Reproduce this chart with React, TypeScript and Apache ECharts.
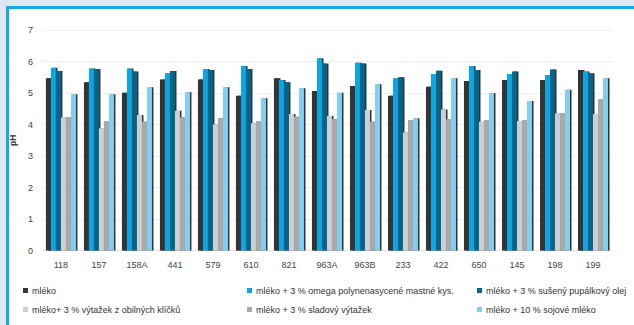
import React, { useEffect, useRef } from "react";
import * as echarts from "echarts";

const categories = ["118", "157", "158A", "441", "579", "610", "821", "963A", "963B", "233", "422", "650", "145", "198", "199"];
const seriesNames = [
  "mléko",
  "mléko + 3 % omega polynenasycené mastné kys.",
  "mléko + 3 % sušený pupálkový olej",
  "mléko+ 3 % výtažek z obilných klíčků",
  "mléko + 3 % sladový výtažek",
  "mléko + 10 % sojové mléko",
];
const mleko = [5.47, 5.34, 5.01, 5.43, 5.43, 4.91, 5.47, 5.06, 5.22, 4.91, 5.2, 5.38, 5.41, 5.41, 5.73];
const omega = [5.8, 5.78, 5.78, 5.63, 5.76, 5.86, 5.41, 6.1, 5.96, 5.47, 5.6, 5.86, 5.6, 5.57, 5.68];
const pupalka = [5.7, 5.76, 5.68, 5.7, 5.73, 5.76, 5.34, 5.94, 5.94, 5.5, 5.71, 5.73, 5.68, 5.75, 5.63];
const klicky = [4.22, 3.88, 4.3, 4.44, 4.0, 4.04, 4.33, 4.27, 4.46, 3.75, 4.48, 4.09, 4.11, 4.35, 4.33];
const slad = [4.22, 4.11, 4.09, 4.22, 4.2, 4.11, 4.25, 4.17, 4.09, 4.14, 4.17, 4.14, 4.14, 4.35, 4.8];
const soja = [4.96, 4.96, 5.18, 5.02, 5.18, 4.83, 5.15, 5.01, 5.28, 4.2, 5.47, 4.99, 4.75, 5.1, 5.47];
const yMin = 0;
const yMax = 7;
const yInterval = 1;

const seriesData = [mleko, omega, pupalka, klicky, slad, soja];
const colors = ["#363636", "#0aa6e1", "#03668c", "#cfcfcf", "#a9a9a9", "#82cff0"];
const legendPos = [
  { left: 23, top: 286 },
  { left: 247, top: 286 },
  { left: 477, top: 286 },
  { left: 23, top: 305 },
  { left: 247, top: 305 },
  { left: 477, top: 305 },
];

const FONT = "Liberation Sans, Arial, sans-serif";

export default function App() {
  const ref = useRef<HTMLDivElement>(null);
  useEffect(() => {
    if (!ref.current) return;
    const chart = echarts.init(ref.current, undefined, { renderer: "svg" });
    chart.setOption({
      animation: false,
      backgroundColor: "transparent",
      textStyle: { fontFamily: FONT },
      graphic: [
        { type: "rect", z: -10, silent: true, shape: { x: 0, y: 0, width: 634, height: 325 }, style: { fill: "#dfe8ee" } },
        { type: "rect", z: -9, silent: true, shape: { x: 6, y: 6, width: 700, height: 400 }, style: { fill: "#18a7e5" } },
        { type: "rect", z: -8, silent: true, shape: { x: 9, y: 9, width: 700, height: 400 }, style: { fill: "#ffffff" } },
      ],
      legend: seriesNames.map((n, i) => ({
        data: [n],
        left: legendPos[i].left,
        top: legendPos[i].top,
        icon: "rect",
        itemWidth: 5,
        itemHeight: 5,
        padding: 0,
        textStyle: { fontSize: 9, color: "#333", fontFamily: FONT, padding: [0, 0, 0, -1] },
      })),
      grid: { left: 34, right: 22, top: 30, bottom: 74.5, containLabel: false },
      xAxis: {
        type: "category",
        data: categories,
        axisTick: { show: false },
        axisLine: { show: true, lineStyle: { color: "#e2e2e2" } },
        axisLabel: { color: "#444", fontSize: 9, margin: 10 },
      },
      yAxis: {
        type: "value",
        min: yMin,
        max: yMax,
        interval: yInterval,
        name: "pH",
        nameLocation: "middle",
        nameGap: 9,
        nameTextStyle: { fontSize: 8.5, fontWeight: "bold", color: "#333" },
        axisLine: { show: false },
        axisTick: { show: false },
        axisLabel: { color: "#444", fontSize: 9, margin: 9 },
        splitLine: { lineStyle: { color: "#efefef" } },
      },
      series: seriesNames.map((n, i) => ({
        name: n,
        type: "bar",
        data: seriesData[i],
        barWidth: 5,
        barGap: "0%",
        itemStyle: {
          color: colors[i],
          shadowColor: "rgba(25,25,25,0.9)",
          shadowOffsetX: 1.5,
          shadowOffsetY: 0,
          shadowBlur: 0,
        },
      })),
    });
    return () => chart.dispose();
  }, []);
  return (
    <div
      ref={ref}
      style={{ position: "absolute", left: 0, top: 0, width: 634, height: 325 }}
    />
  );
}
